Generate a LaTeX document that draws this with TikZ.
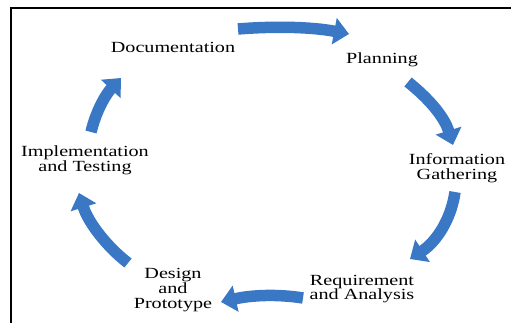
\documentclass[tikz,border=0pt]{standalone}
\usepackage{fontspec}
\setmainfont{Liberation Serif}
\usetikzlibrary{arrows.meta}
\definecolor{arrowblue}{RGB}{58,120,198}
\tikzset{
  lbl/.style={align=center, xscale=1.3, inner sep=0pt, font=\fontsize{15.5}{14.8}\selectfont},
  cyc/.style={draw=arrowblue, line width=11.5pt, -{Triangle[width=26pt,length=15pt]}}
}
\begin{document}
\begin{tikzpicture}[x=1pt,y=-1pt]
\useasboundingbox (0,0) rectangle (511,323);
\fill[white] (0,0) rectangle (511,323);
\draw[line width=2pt] (11,324) -- (11,8) -- (511,8);

\node[lbl] (doc) at (173,47) {Documentation};
\node[lbl] (plan) at (382,60) {Planning};
\node[lbl] (info) at (457,168) {Information\\Gathering};
\node[lbl] (req) at (362,289) {Requirement\\and Analysis};
\node[lbl] (des) at (173,290) {Design\\and\\Prototype};
\node[lbl] (impl) at (85,160) {Implementation\\and Testing};

\coordinate (a1s) at (238,29);  \coordinate (a1e) at (349,34);
\coordinate (a2s) at (408,82);  \coordinate (a2e) at (453,145);
\coordinate (a3s) at (455,192); \coordinate (a3e) at (410,259);
\coordinate (a4s) at (303,298); \coordinate (a4e) at (221,302);
\coordinate (a5s) at (128,263); \coordinate (a5e) at (79,193);
\coordinate (a6s) at (91,132);  \coordinate (a6e) at (121,78);

\draw[cyc] (a1s) .. controls (275,26) and (312,27) .. (a1e);
\draw[cyc] (a2s) .. controls (428,98) and (444,116) .. (a2e);
\draw[cyc] (a3s) .. controls (451,220) and (436,242) .. (a3e);
\draw[cyc] (a4s) .. controls (278,294) and (252,295) .. (a4e);
\draw[cyc] (a5s) .. controls (106,246) and (88,222) .. (a5e);
\draw[cyc] (a6s) .. controls (96,111) and (106,94) .. (a6e);
\end{tikzpicture}
\end{document}
